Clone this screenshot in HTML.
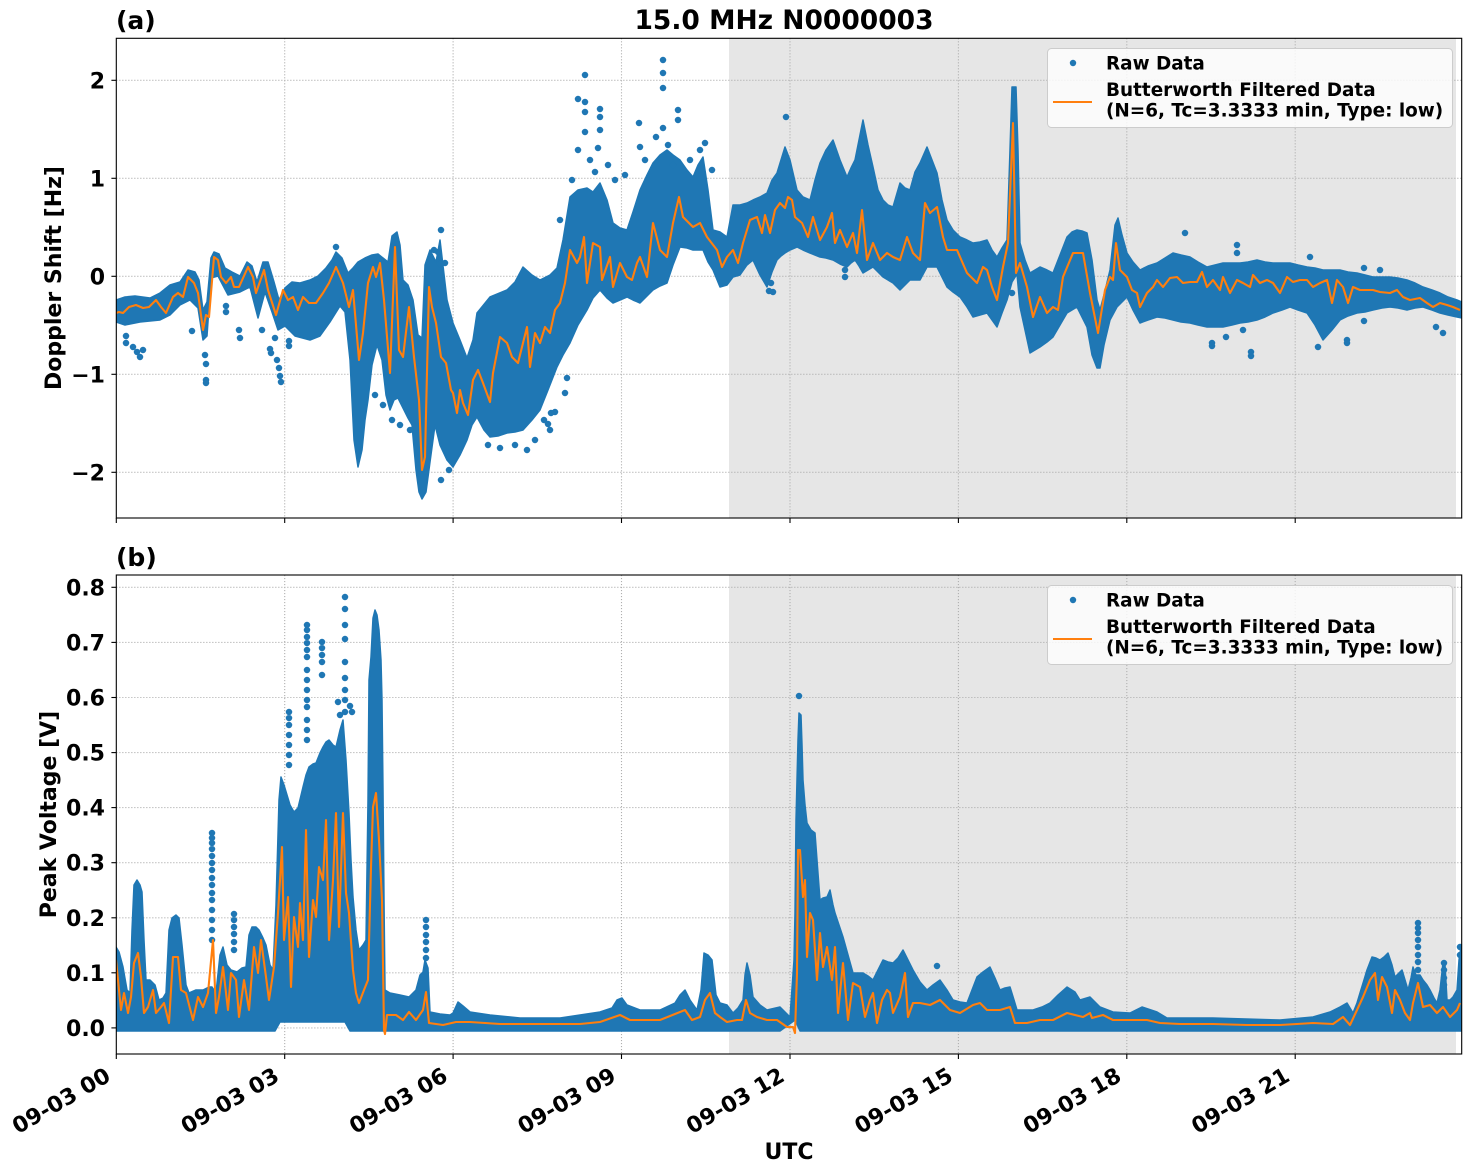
<!DOCTYPE html>
<html><head><meta charset="utf-8"><style>
html,body{margin:0;padding:0;background:#fff;}
svg{display:block;}
text{font-family:"DejaVu Sans","Liberation Sans",sans-serif;font-weight:bold;fill:#000;}
.tk{font-size:22px;}
.lg{font-size:18.4px;}
.grid{stroke:#b0b0b0;stroke-width:1.1;stroke-dasharray:1.1 1.9;fill:none;}
.band{fill:#1f77b4;stroke:#1f77b4;stroke-width:1.5;stroke-linejoin:round;}
.dots{stroke:#1f77b4;stroke-width:6.5;stroke-linecap:round;fill:none;}
.orng{fill:none;stroke:#ff7f0e;stroke-width:2.1;stroke-linejoin:round;}
</style></head><body>
<svg width="1472" height="1172" viewBox="0 0 1472 1172" xmlns="http://www.w3.org/2000/svg">
<defs>
<clipPath id="ca"><rect x="116.3" y="38.3" width="1345.4" height="479.7"/></clipPath>
<clipPath id="cb"><rect x="116.3" y="575" width="1345.4" height="479"/></clipPath>
</defs>

<!-- ============ TOP AXES ============ -->
<rect x="729" y="38.3" width="727" height="479.7" fill="#e6e6e6"/>
<g class="grid">
<line x1="116.3" y1="80.3" x2="1461.7" y2="80.3"/>
<line x1="116.3" y1="178.3" x2="1461.7" y2="178.3"/>
<line x1="116.3" y1="276.3" x2="1461.7" y2="276.3"/>
<line x1="116.3" y1="374.3" x2="1461.7" y2="374.3"/>
<line x1="116.3" y1="472.3" x2="1461.7" y2="472.3"/>
<line x1="284.7" y1="38.3" x2="284.7" y2="518"/>
<line x1="453.1" y1="38.3" x2="453.1" y2="518"/>
<line x1="621.5" y1="38.3" x2="621.5" y2="518"/>
<line x1="790" y1="38.3" x2="790" y2="518"/>
<line x1="958.4" y1="38.3" x2="958.4" y2="518"/>
<line x1="1126.8" y1="38.3" x2="1126.8" y2="518"/>
<line x1="1295.2" y1="38.3" x2="1295.2" y2="518"/>
</g>
<g clip-path="url(#ca)">
<polygon class="band" points="116,300 125,297 135,296 150,298 160,293 170,285 180,282 188,270 195,272 199,280 203,310 207,302 211,258 214,252 219,254 225,268 232,272 240,276 247,262 252,266 257,282 263,262 268,262 274,282 279,300 285,288 292,282 300,283 310,280 318,276 326,268 332,260 336,252 342,258 348,273 353,268 358,262 365,258 372,255 378,254 383,258 388,262 392,236 397,232 400,245 403,280 408,285 413,300 418,335 422,338 425,265 430,250 436,262 440,240 447,300 453,323 460,340 467,358 473,340 477,313 490,297 507,290 515,282 523,267 532,275 540,280 550,275 557,268 563,240 570,197 578,190 587,188 593,192 600,183 607,200 613,223 620,228 627,230 633,212 640,190 647,175 653,163 660,155 667,150 673,155 680,160 687,170 693,177 698,165 703,157 708,190 713,230 720,232 727,237 733,205 740,205 747,203 753,200 760,197 767,193 772,180 777,173 781,160 785,147 790,160 797,190 803,197 810,200 815,180 820,163 826,150 833,140 840,160 847,177 851,168 855,160 859,140 863,120 868,145 873,167 878,190 883,200 888,205 893,207 900,183 905,188 910,190 915,172 920,163 927,147 932,160 937,173 942,200 947,220 953,230 960,237 967,240 973,243 980,242 987,240 992,250 997,257 1002,248 1007,240 1010,150 1012,87 1016,87 1018,150 1020,243 1025,260 1030,273 1035,270 1040,267 1047,270 1053,273 1060,255 1067,237 1072,232 1077,230 1082,231 1087,233 1092,260 1097,300 1100,310 1104,295 1110,270 1115,225 1118,218 1122,235 1127,253 1133,262 1140,270 1148,266 1157,263 1165,258 1173,253 1181,255 1190,257 1198,262 1207,267 1215,265 1223,263 1232,263 1240,263 1248,262 1257,260 1265,262 1273,263 1282,263 1290,263 1298,265 1307,267 1315,268 1323,270 1332,270 1340,270 1348,272 1357,273 1365,275 1373,277 1382,277 1390,277 1398,278 1407,280 1415,283 1423,287 1432,290 1440,293 1448,297 1457,300 1462,302 1462,318 1457,317 1448,315 1440,313 1432,310 1423,307 1415,308 1407,310 1398,308 1390,307 1382,308 1373,310 1365,312 1357,313 1348,316 1340,320 1332,330 1323,340 1315,325 1307,313 1298,310 1290,307 1282,310 1273,313 1265,317 1257,320 1248,322 1240,323 1232,325 1223,327 1215,327 1207,327 1198,325 1190,323 1181,322 1173,320 1165,318 1157,317 1148,320 1140,323 1133,310 1127,297 1122,302 1117,307 1110,320 1104,345 1100,368 1097,368 1092,355 1087,327 1082,317 1077,307 1072,310 1067,313 1060,325 1053,337 1047,342 1040,347 1035,350 1030,353 1025,330 1020,307 1017,274 1012,282 1007,300 1002,313 997,327 992,320 987,313 980,315 973,317 967,307 960,297 953,292 947,287 942,277 937,267 932,267 927,267 920,280 915,280 910,280 905,285 900,290 893,283 888,280 883,277 878,272 873,267 868,270 863,273 859,266 855,260 851,263 847,267 840,264 833,260 826,258 820,257 815,255 810,253 803,250 797,247 790,250 785,253 781,256 777,260 772,272 767,287 760,275 753,260 747,265 740,275 733,277 727,285 720,287 713,270 708,262 703,250 698,250 693,250 687,248 680,247 673,265 667,283 660,286 653,290 647,296 640,303 633,300 627,297 620,300 613,303 607,298 600,290 593,298 587,310 578,325 570,343 563,355 557,367 548,390 540,410 532,420 523,430 515,432 507,433 498,436 490,437 484,430 477,417 472,425 467,440 460,455 453,467 447,460 440,445 435,425 430,462 426,492 422,499 419,492 416,470 412,425 408,418 403,408 398,398 394,400 390,410 386,395 382,360 377,345 372,365 368,400 365,420 362,450 358,467 354,440 350,360 345,312 340,306 330,322 320,336 310,340 295,336 285,326 278,330 272,312 265,292 258,318 250,287 240,292 228,295 218,276 211,278 207,336 203,340 198,308 190,300 180,305 170,315 160,320 140,322 125,325 116,322"/>
<path class="dots" d="M126 343h0M126 336h0M133 347h0M137 352h0M140 357h0M143 350h0M192 331h0M205 355h0M206 364h0M206 380h0M206 383h0M226 306h0M226 312h0M239 330h0M240 338h0M262 330h0M270 349h0M271 353h0M275 338h0M277 360h0M279 368h0M280 376h0M281 382h0M289 341h0M289 346h0M336 247h0M441 230h0M434 250h0M438 252h0M440 264h0M445 263h0M449 470h0M441 480h0M585 75h0M663 60h0M663 73h0M663 88h0M578 99h0M585 102h0M585 112h0M585 132h0M600 109h0M600 117h0M600 130h0M639 123h0M678 110h0M678 120h0M663 128h0M578 150h0M598 148h0M640 147h0M656 137h0M668 145h0M705 143h0M673 165h0M595 172h0M683 170h0M527 450h0M550 430h0M548 424h0M544 420h0M555 412h0M551 413h0M565 393h0M567 378h0M786 117h0M771 283h0M769 291h0M773 292h0M845 270h0M845 277h0M1012 293h0M1185 233h0M1237 245h0M1237 253h0M1310 257h0M1251 352h0M1251 356h0M1212 343h0M1212 346h0M1226 337h0M1318 347h0M1347 343h0M1347 340h0M1364 321h0M1436 327h0M1443 333h0M1364 268h0M1380 270h0M1243 330h0M375 395h0M383 405h0M392 420h0M400 425h0M410 430h0M488 445h0M500 448h0M515 445h0M535 440h0M608 165h0M615 180h0M625 175h0M645 160h0M690 160h0M700 150h0M712 170h0M560 220h0M572 180h0M590 160h0"/>
<polyline class="orng" points="116,313 119,312 123,313 129,307 136,305 143,308 149,307 156,300 161,307 166,313 173,297 178,293 183,297 188,277 194,283 198,293 203,330 206,315 209,317 214,257 218,260 221,277 226,283 231,277 234,287 239,287 248,267 253,277 256,293 264,270 268,290 276,315 283,290 288,300 293,297 298,310 303,297 309,303 316,303 323,293 329,283 336,267 343,283 349,307 353,290 359,360 363,333 368,283 373,267 376,277 380,263 384,300 390,373 395,247 399,350 403,357 409,307 414,357 419,400 422,470 425,457 429,287 432,307 436,323 441,357 446,363 451,390 453,393 457,413 460,390 463,403 468,415 473,380 478,370 483,383 490,402 493,373 500,337 507,343 512,357 518,363 527,327 530,367 535,333 540,343 545,327 550,333 555,310 560,303 565,283 570,250 577,263 580,257 584,237 587,283 593,243 600,247 602,280 610,257 613,287 620,263 627,277 632,280 637,263 640,257 647,277 653,223 660,250 667,257 673,223 679,197 683,217 693,227 700,223 707,237 717,250 722,267 727,257 733,250 738,263 743,243 750,220 757,217 762,233 765,215 770,233 775,210 780,203 785,208 788,197 792,200 795,217 802,223 808,237 813,217 820,240 827,227 832,213 835,243 840,230 847,247 853,233 857,253 862,210 867,260 873,243 880,260 887,253 893,257 900,260 907,237 913,253 920,260 925,203 930,213 937,207 943,237 947,250 957,250 967,273 977,283 983,267 987,270 992,287 997,300 1003,267 1008,243 1013,123 1016,273 1020,263 1027,287 1033,317 1040,297 1047,313 1053,307 1058,310 1063,277 1073,253 1083,253 1090,293 1098,333 1105,290 1110,277 1113,280 1116,243 1120,270 1127,277 1132,290 1137,293 1140,307 1147,293 1153,287 1157,280 1163,287 1170,278 1177,277 1183,283 1190,282 1197,282 1202,272 1207,287 1213,280 1220,290 1223,277 1230,293 1237,280 1243,283 1250,287 1253,275 1260,283 1267,280 1273,283 1280,293 1287,277 1293,282 1300,280 1307,280 1313,287 1320,283 1327,280 1332,303 1337,280 1343,287 1348,303 1353,287 1360,290 1373,290 1380,292 1390,293 1397,290 1403,297 1410,300 1420,298 1427,303 1433,307 1440,303 1447,305 1453,307 1460,310"/>
</g>
<rect x="116.3" y="38.3" width="1345.4" height="479.7" fill="none" stroke="#000" stroke-width="1.1"/>
<g stroke="#000" stroke-width="1.1">
<line x1="111.4" y1="80.3" x2="116.3" y2="80.3"/>
<line x1="111.4" y1="178.3" x2="116.3" y2="178.3"/>
<line x1="111.4" y1="276.3" x2="116.3" y2="276.3"/>
<line x1="111.4" y1="374.3" x2="116.3" y2="374.3"/>
<line x1="111.4" y1="472.3" x2="116.3" y2="472.3"/>
<line x1="116.3" y1="518" x2="116.3" y2="523"/>
<line x1="284.7" y1="518" x2="284.7" y2="523"/>
<line x1="453.1" y1="518" x2="453.1" y2="523"/>
<line x1="621.5" y1="518" x2="621.5" y2="523"/>
<line x1="790" y1="518" x2="790" y2="523"/>
<line x1="958.4" y1="518" x2="958.4" y2="523"/>
<line x1="1126.8" y1="518" x2="1126.8" y2="523"/>
<line x1="1295.2" y1="518" x2="1295.2" y2="523"/>
</g>
<g class="tk" text-anchor="end">
<text x="105" y="88.3">2</text>
<text x="105" y="186.3">1</text>
<text x="105" y="284.3">0</text>
<text x="105" y="382.3">−1</text>
<text x="105" y="480.3">−2</text>
</g>
<text class="tk" x="61" y="278" text-anchor="middle" transform="rotate(-90 61 278)">Doppler Shift [Hz]</text>
<text x="116" y="29" style="font-size:25px">(a)</text>
<text x="784" y="29" text-anchor="middle" style="font-size:26.5px">15.0 MHz N0000003</text>
<!-- legend top -->
<rect x="1047.5" y="48.5" width="405" height="79" rx="4" fill="#ffffff" fill-opacity="0.8" stroke="#cccccc" stroke-width="1"/>
<circle cx="1073" cy="63" r="3.2" fill="#1f77b4"/>
<line x1="1053" y1="102" x2="1092" y2="102" stroke="#ff7f0e" stroke-width="2.1"/>
<text class="lg" x="1106" y="69.3">Raw Data</text>
<text class="lg" x="1106" y="96">Butterworth Filtered Data</text>
<text class="lg" x="1106" y="116.5">(N=6, Tc=3.3333 min, Type: low)</text>

<!-- ============ BOTTOM AXES ============ -->
<rect x="729" y="575" width="727" height="479" fill="#e6e6e6"/>
<g class="grid">
<line x1="116.3" y1="587.3" x2="1461.7" y2="587.3"/>
<line x1="116.3" y1="642.4" x2="1461.7" y2="642.4"/>
<line x1="116.3" y1="697.5" x2="1461.7" y2="697.5"/>
<line x1="116.3" y1="752.6" x2="1461.7" y2="752.6"/>
<line x1="116.3" y1="807.6" x2="1461.7" y2="807.6"/>
<line x1="116.3" y1="862.7" x2="1461.7" y2="862.7"/>
<line x1="116.3" y1="917.8" x2="1461.7" y2="917.8"/>
<line x1="116.3" y1="972.8" x2="1461.7" y2="972.8"/>
<line x1="116.3" y1="1027.9" x2="1461.7" y2="1027.9"/>
<line x1="284.7" y1="575" x2="284.7" y2="1054"/>
<line x1="453.1" y1="575" x2="453.1" y2="1054"/>
<line x1="621.5" y1="575" x2="621.5" y2="1054"/>
<line x1="790" y1="575" x2="790" y2="1054"/>
<line x1="958.4" y1="575" x2="958.4" y2="1054"/>
<line x1="1126.8" y1="575" x2="1126.8" y2="1054"/>
<line x1="1295.2" y1="575" x2="1295.2" y2="1054"/>
</g>
<g clip-path="url(#cb)">
<polygon class="band" points="116,947 119,952 123,967 127,990 130,993 132,930 134,885 137,880 140,885 142,892 144,940 146,980 150,980 155,985 159,1000 163,998 166,993 169,930 172,918 176,915 179,918 182,945 186,985 189,993 196,990 203,990 209,987 212,987 216,993 220,955 223,947 227,965 231,970 237,972 242,968 246,967 249,935 252,927 256,927 259,930 263,938 266,945 270,965 273,970 276,905 279,800 281,777 284,785 287,795 290,805 294,812 298,808 303,787 306,775 309,767 313,764 316,763 320,753 323,747 326,742 329,740 333,745 336,747 340,730 343,720 346,760 349,813 351,860 353,897 356,930 359,950 363,945 366,940 368,800 369,680 371,657 373,618 375,610 377,615 379,630 381,660 382,700 383,790 384,900 385,990 390,993 400,995 409,997 416,990 420,975 423,972 425,960 428,968 430,1012 440,1014 450,1015 453,1013 458,1002 463,1006 470,1012 490,1015 520,1018 560,1018 600,1012 612,1008 617,1000 622,998 627,1005 640,1010 660,1010 675,1003 680,995 685,990 690,1000 697,1010 701,990 704,953 708,955 712,960 716,995 720,1003 727,1005 733,1013 738,1008 743,1000 745,975 747,963 750,975 753,997 760,1005 767,1010 780,1007 790,1017 794,960 795,913 796,820 797,780 798,740 799,713 801,715 802,745 803,780 805,805 807,823 811,830 815,833 817,860 820,900 823,898 827,897 830,890 833,905 835,913 839,925 843,937 848,955 853,973 858,973 863,973 868,976 873,980 878,970 883,960 888,962 893,963 898,958 903,950 908,960 913,970 920,982 927,990 933,985 940,980 947,990 953,1000 960,1002 967,1003 972,990 977,977 983,972 990,967 995,978 1000,990 1005,988 1010,987 1014,1000 1017,1010 1025,1010 1033,1010 1042,1007 1050,1003 1058,995 1067,987 1075,992 1080,1000 1090,997 1100,1007 1113,1012 1130,1013 1142,1007 1157,1012 1167,1018 1213,1018 1280,1020 1313,1017 1330,1012 1340,1007 1347,1003 1353,1013 1357,1003 1360,993 1364,980 1367,970 1372,957 1376,958 1380,960 1384,957 1388,953 1392,965 1395,977 1399,973 1402,970 1405,980 1408,990 1411,978 1413,967 1416,975 1420,975 1423,980 1427,985 1430,990 1434,998 1437,1003 1440,990 1443,963 1445,965 1447,1000 1450,1000 1453,997 1457,990 1459,960 1461,947 1462,947 1462,1031 1000,1031 800,1031 795,1020 780,1031 350,1031 345,1022 280,1022 275,1031 116,1031"/>
<path class="dots" d="M212 833h0M212 838h0M212 843h0M212 849h0M212 856h0M212 863h0M212 870h0M212 878h0M212 885h0M212 893h0M212 900h0M212 910h0M212 920h0M212 930h0M212 940h0M234 914h0M234 920h0M234 927h0M234 934h0M234 942h0M234 950h0M307 625h0M307 630h0M307 637h0M307 643h0M307 650h0M307 657h0M307 670h0M307 680h0M307 690h0M307 700h0M307 707h0M307 720h0M307 730h0M307 740h0M322 642h0M322 648h0M322 655h0M322 662h0M322 675h0M345 597h0M345 609h0M345 625h0M345 639h0M345 662h0M345 678h0M345 690h0M345 700h0M345 712h0M289 712h0M289 718h0M289 725h0M289 735h0M289 745h0M289 755h0M289 765h0M338 702h0M350 706h0M352 712h0M340 715h0M426 920h0M426 927h0M426 935h0M426 942h0M426 950h0M426 958h0M799 696h0M937 966h0M1418 923h0M1418 928h0M1418 933h0M1418 940h0M1418 947h0M1418 955h0M1418 962h0M1418 970h0M1444 963h0M1444 970h0M1444 978h0M1444 985h0M1460 947h0M1460 955h0"/>
<polyline class="orng" points="116,960 121,1010 124,993 128,1013 131,997 134,963 138,953 141,977 144,1013 148,1007 153,990 156,1013 161,1007 164,1003 169,1023 173,957 178,957 181,990 186,993 193,1020 198,997 203,1007 208,993 213,940 216,1013 219,997 223,967 228,1010 231,973 236,980 239,1017 244,980 249,1010 254,947 258,973 261,940 266,977 269,1000 274,967 278,913 282,847 284,940 288,897 291,987 294,917 298,947 300,903 303,940 306,830 309,957 313,900 316,917 319,867 323,880 326,820 329,940 333,880 336,813 339,927 343,813 346,893 349,913 353,970 356,993 359,1003 364,990 368,980 371,867 373,807 376,793 379,840 382,900 384,1030 385,1034 387,1015 396,1015 403,1020 409,1012 416,1020 423,1010 426,992 429,1023 443,1025 456,1022 470,1022 500,1024 540,1024 580,1024 600,1022 620,1015 630,1020 660,1020 685,1010 692,1020 700,1017 705,1000 710,993 715,1013 720,1017 727,1022 737,1020 742,1020 746,1000 750,1013 757,1017 767,1020 777,1020 787,1027 793,1027 795,1033 797,973 798,850 800,850 803,897 805,880 807,957 810,913 813,920 817,980 820,933 823,967 827,947 832,980 835,947 838,1013 843,963 848,1020 853,983 860,987 865,1017 870,1000 873,993 877,1023 882,1000 887,990 890,993 893,1013 900,997 905,973 908,1017 913,1003 920,1003 930,1005 940,1000 950,1010 960,1013 973,1005 980,1003 987,1010 1000,1010 1010,1007 1015,1023 1027,1023 1040,1020 1053,1020 1067,1013 1083,1017 1090,1013 1092,1018 1103,1015 1113,1020 1130,1020 1147,1020 1160,1023 1180,1024 1213,1024 1247,1025 1280,1025 1297,1024 1313,1023 1333,1024 1343,1017 1350,1025 1357,1010 1363,997 1370,980 1375,973 1378,1000 1382,977 1387,987 1392,1013 1395,990 1400,1000 1405,1013 1410,1020 1413,1003 1418,983 1423,1007 1430,1005 1437,1013 1443,1007 1450,1017 1457,1010 1460,1003"/>
</g>
<rect x="116.3" y="575" width="1345.4" height="479" fill="none" stroke="#000" stroke-width="1.1"/>
<g stroke="#000" stroke-width="1.1">
<line x1="111.4" y1="587.3" x2="116.3" y2="587.3"/>
<line x1="111.4" y1="642.4" x2="116.3" y2="642.4"/>
<line x1="111.4" y1="697.5" x2="116.3" y2="697.5"/>
<line x1="111.4" y1="752.6" x2="116.3" y2="752.6"/>
<line x1="111.4" y1="807.6" x2="116.3" y2="807.6"/>
<line x1="111.4" y1="862.7" x2="116.3" y2="862.7"/>
<line x1="111.4" y1="917.8" x2="116.3" y2="917.8"/>
<line x1="111.4" y1="972.8" x2="116.3" y2="972.8"/>
<line x1="111.4" y1="1027.9" x2="116.3" y2="1027.9"/>
<line x1="116.3" y1="1054" x2="116.3" y2="1059"/>
<line x1="284.7" y1="1054" x2="284.7" y2="1059"/>
<line x1="453.1" y1="1054" x2="453.1" y2="1059"/>
<line x1="621.5" y1="1054" x2="621.5" y2="1059"/>
<line x1="790" y1="1054" x2="790" y2="1059"/>
<line x1="958.4" y1="1054" x2="958.4" y2="1059"/>
<line x1="1126.8" y1="1054" x2="1126.8" y2="1059"/>
<line x1="1295.2" y1="1054" x2="1295.2" y2="1059"/>
</g>
<g class="tk" text-anchor="end">
<text x="105" y="595.3">0.8</text>
<text x="105" y="650.4">0.7</text>
<text x="105" y="705.5">0.6</text>
<text x="105" y="760.6">0.5</text>
<text x="105" y="815.6">0.4</text>
<text x="105" y="870.7">0.3</text>
<text x="105" y="925.8">0.2</text>
<text x="105" y="980.8">0.1</text>
<text x="105" y="1035.9">0.0</text>
</g>
<text class="tk" x="56" y="814.5" text-anchor="middle" transform="rotate(-90 56 814.5)">Peak Voltage [V]</text>
<text x="116" y="566" style="font-size:25px">(b)</text>
<g class="tk" text-anchor="end">
<text x="112" y="1080" transform="rotate(-30 112 1080)">09-03 00</text>
<text x="280.7" y="1080" transform="rotate(-30 280.7 1080)">09-03 03</text>
<text x="449.1" y="1080" transform="rotate(-30 449.1 1080)">09-03 06</text>
<text x="617.5" y="1080" transform="rotate(-30 617.5 1080)">09-03 09</text>
<text x="786" y="1080" transform="rotate(-30 786 1080)">09-03 12</text>
<text x="954.4" y="1080" transform="rotate(-30 954.4 1080)">09-03 15</text>
<text x="1122.8" y="1080" transform="rotate(-30 1122.8 1080)">09-03 18</text>
<text x="1291.2" y="1080" transform="rotate(-30 1291.2 1080)">09-03 21</text>
</g>
<text class="tk" x="789" y="1159" text-anchor="middle">UTC</text>
<!-- legend bottom -->
<rect x="1047.5" y="585.5" width="405" height="79" rx="4" fill="#ffffff" fill-opacity="0.8" stroke="#cccccc" stroke-width="1"/>
<circle cx="1073" cy="600" r="3.2" fill="#1f77b4"/>
<line x1="1053" y1="639" x2="1092" y2="639" stroke="#ff7f0e" stroke-width="2.1"/>
<text class="lg" x="1106" y="606.3">Raw Data</text>
<text class="lg" x="1106" y="633">Butterworth Filtered Data</text>
<text class="lg" x="1106" y="653.5">(N=6, Tc=3.3333 min, Type: low)</text>
</svg>
</body></html>
